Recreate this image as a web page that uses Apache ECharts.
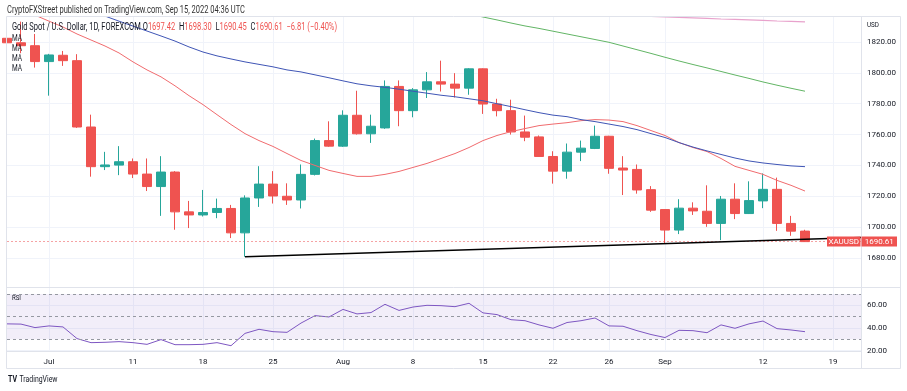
<!DOCTYPE html>
<html>
<head>
<meta charset="utf-8">
<script src="https://cdn.jsdelivr.net/npm/echarts@6/dist/echarts.min.js"></script>
<style>
html,body{margin:0;padding:0;background:#fff;}
#chart{width:907px;height:391px;}
</style>
</head>
<body>
<div id="chart"></div>
<script>
// ---------- DATA ----------
const categories = [
  '2022-06-28','2022-06-29','2022-06-30',
  '2022-07-01','2022-07-04','2022-07-05','2022-07-06','2022-07-07','2022-07-08',
  '2022-07-11','2022-07-12','2022-07-13','2022-07-14','2022-07-15',
  '2022-07-18','2022-07-19','2022-07-20','2022-07-21','2022-07-22',
  '2022-07-25','2022-07-26','2022-07-27','2022-07-28','2022-07-29',
  '2022-08-01','2022-08-02','2022-08-03','2022-08-04','2022-08-05',
  '2022-08-08','2022-08-09','2022-08-10','2022-08-11','2022-08-12',
  '2022-08-15','2022-08-16','2022-08-17','2022-08-18','2022-08-19',
  '2022-08-22','2022-08-23','2022-08-24','2022-08-25','2022-08-26',
  '2022-08-29','2022-08-30','2022-08-31','2022-09-01','2022-09-02',
  '2022-09-05','2022-09-06','2022-09-07','2022-09-08','2022-09-09',
  '2022-09-12','2022-09-13','2022-09-14','2022-09-15','2022-09-16',
  '2022-09-19','2022-09-20','2022-09-21'
];

const openP  = [1822.4,1819.5,1817.6,1807.3,1811.4,1807.9,1764.9,1739.2,1740.2,1742.4,1734.4,1726.3,1735.7,1709.9,1707.9,1709.5,1712.1,1696.3,1718.9,1727.9,1720.0,1717.6,1734.2,1756.1,1752.5,1772.5,1760.5,1764.3,1791.2,1775.5,1789.0,1794.2,1792.7,1790.1,1802.6,1779.8,1775.5,1761.7,1758.5,1745.8,1736.3,1748.6,1751.0,1758.9,1738.3,1737.4,1724.3,1711.4,1698.1,1712.3,1710.3,1702.4,1718.1,1708.8,1717.0,1724.5,1702.4,1697.42];
const highP  = [1829.2,1833.2,1825.2,1812.3,1814.2,1812.1,1772.9,1748.8,1752.5,1744.5,1744.5,1746.0,1736.3,1717.0,1724.1,1718.5,1714.4,1720.6,1739.5,1736.3,1728.4,1740.6,1757.4,1768.6,1775.7,1788.4,1772.9,1795.1,1795.1,1790.1,1800.5,1807.9,1799.8,1803.0,1802.9,1783.2,1782.6,1772.3,1759.4,1749.2,1754.2,1756.1,1765.8,1759.2,1746.0,1740.6,1726.6,1711.6,1718.1,1716.1,1727.1,1720.2,1728.4,1729.7,1734.8,1732.1,1707.3,1698.30];
const lowP   = [1819.0,1812.7,1803.4,1785.2,1804.5,1764.3,1732.7,1737.0,1733.7,1731.8,1723.4,1707.3,1698.3,1699.4,1706.9,1705.8,1692.9,1680.8,1713.1,1715.3,1714.4,1712.1,1733.5,1752.1,1752.0,1760.0,1754.6,1763.7,1765.4,1771.2,1783.7,1787.9,1784.0,1785.8,1773.4,1771.8,1760.0,1755.7,1745.5,1728.2,1731.4,1742.8,1750.6,1734.6,1720.8,1721.7,1709.9,1689.5,1695.5,1707.9,1700.2,1691.6,1705.2,1708.5,1712.3,1697.6,1694.4,1690.45];
const closeP = [1819.5,1817.6,1807.3,1811.6,1807.9,1764.9,1739.2,1740.3,1742.4,1734.4,1726.3,1735.7,1709.9,1707.9,1709.5,1712.1,1696.3,1718.9,1727.9,1720.2,1717.6,1734.2,1756.1,1752.5,1772.5,1760.5,1765.4,1791.2,1775.5,1789.0,1794.2,1792.7,1790.1,1802.6,1779.8,1775.5,1761.7,1758.3,1745.8,1736.3,1748.6,1751.2,1758.9,1738.1,1737.0,1724.1,1711.0,1698.1,1712.3,1710.5,1702.4,1718.1,1708.8,1717.2,1724.5,1702.4,1697.4,1690.61];

// moving averages (null = not drawn)
const maRed = [1843.9,1840.5,1837.4,1833.5,1829.7,1825.2,1821.3,1817.4,1812.9,1807.1,1801.9,1797.4,1791.6,1785.2,1779.4,1772.9,1766.5,1760.6,1756.1,1752.3,1747.7,1743.2,1740.0,1736.8,1734.8,1732.9,1732.9,1734.2,1736.1,1738.7,1741.3,1744.5,1747.7,1751.6,1756.1,1759.4,1761.9,1763.9,1765.8,1766.8,1767.7,1769.0,1769.7,1769.4,1768.4,1765.8,1762.6,1759.4,1754.8,1751.6,1749.0,1744.5,1739.4,1736.8,1734.2,1730.3,1727.1,1723.4];
const maBlue = [null,null,null,null,null,null,1840.2,1836.8,1833.5,1830.3,1827.1,1823.9,1820.6,1816.8,1813.5,1811.0,1809.0,1807.1,1805.5,1803.9,1801.9,1800.6,1798.7,1796.8,1794.8,1792.9,1791.6,1790.6,1789.4,1788.1,1786.8,1785.5,1784.5,1783.2,1781.9,1780.0,1778.1,1776.1,1774.2,1772.6,1771.6,1769.7,1768.4,1766.8,1765.2,1763.2,1760.6,1758.1,1754.8,1751.9,1749.4,1747.1,1744.8,1742.9,1741.6,1740.6,1739.7,1739.2];
const maGreen = [null,null,null,null,null,null,null,null,null,null,null,null,null,null,null,null,null,null,null,null,null,null,null,null,null,null,null,null,null,null,null,null,null,1838.2,1836.2,1834.3,1832.3,1830.4,1828.8,1827.0,1825.2,1823.4,1821.6,1819.8,1817.4,1815.0,1812.6,1810.1,1807.7,1805.4,1803.2,1800.9,1798.6,1796.4,1794.1,1792.0,1790.0,1788.1];
const maPink = [null,null,null,null,null,null,null,null,null,null,null,null,null,null,null,null,null,null,null,null,null,null,null,null,null,null,null,null,null,null,null,null,null,null,null,null,null,null,null,null,null,null,null,null,null,null,1836.6,1836.2,1835.9,1835.6,1835.3,1834.9,1834.6,1834.3,1834.0,1833.6,1833.3,1833.0];

const rsiValues = [43.6,43.4,40.3,41.8,40.9,30.6,27.0,27.3,27.9,27.0,25.5,29.7,25.2,25.2,25.5,27.0,24.3,35.2,38.8,36.7,36.1,44.3,50.9,49.7,56.4,52.4,53.6,60.9,55.5,58.5,60.0,59.7,58.8,61.8,53.3,51.8,47.3,46.4,42.7,39.7,44.8,46.4,48.8,41.8,41.5,37.6,34.2,31.5,37.9,37.6,35.8,42.7,39.7,43.6,46.1,39.4,38.2,36.7];

// trend line: from the 21 Jul low to the right edge
const trendDates  = ['2022-07-21','2022-09-21'];
const trendValues = [1680.8, 1693.3];

const tickDates = ['2022-07-01','2022-07-11','2022-07-18','2022-07-25','2022-08-01','2022-08-08','2022-08-15','2022-08-22','2022-08-26','2022-09-01','2022-09-12','2022-09-19'];
const tickTexts = ['Jul','11','18','25','Aug','8','15','22','26','Sep','12','19'];
const priceTicks = [1680,1700,1720,1740,1760,1780,1800,1820];
const rsiTicks = [20,40,60];
const rsiLevels = [30,50,70];

const symbol = 'XAUUSD';
const headerLine = 'CryptoFXStreet published on TradingView.com, Sep 15, 2022 04:36 UTC';
const titleText = 'Gold Spot / U.S. Dollar, 1D, FOREXCOM';
const change = '\u22126.81 (\u22120.40%)';

// ---------- BUILD ----------
const FONT = 'Roboto';
const UP = '#26a69a', DOWN = '#ef5350', TXT = '#131722', GRIDC = '#f0f3fa', FRAME = '#e0e3eb';
const candleData = openP.map((o, i) => [o, closeP[i], lowP[i], highP[i]]);
const tickIdx = new Set(tickDates.map(d => categories.indexOf(d)));
const isTick = (i) => tickIdx.has(i);
const fmtDate = (v) => { const k = tickDates.indexOf(v); return k >= 0 ? tickTexts[k] : ''; };
const trendData = categories.map(d => { const k = trendDates.indexOf(d); return k >= 0 ? trendValues[k] : null; });
const lastClose = closeP[closeP.length - 1];

const chart = echarts.init(document.getElementById('chart'), null, {renderer: 'canvas'});

const option = {
  animation: false,
  backgroundColor: '#ffffff',
  textStyle: {fontFamily: FONT},
  grid: [
    {left: 7, right: 46, top: 17, height: 270},
    {left: 7, right: 46, top: 287, height: 64.7}
  ],
  xAxis: [
    {type: 'category', gridIndex: 0, data: categories, boundaryGap: false,
     axisLine: {show: false}, axisTick: {show: false}, axisLabel: {show: false},
     splitLine: {show: true, interval: isTick, lineStyle: {color: GRIDC, width: 1}}},
    {type: 'category', gridIndex: 1, data: categories, boundaryGap: false,
     axisLine: {show: true, lineStyle: {color: FRAME}}, axisTick: {show: false},
     axisLabel: {show: true, interval: isTick, formatter: fmtDate, fontSize: 8, color: TXT, margin: 6, fontFamily: FONT},
     splitLine: {show: true, interval: isTick, lineStyle: {color: GRIDC, width: 1}}}
  ],
  yAxis: [
    {type: 'value', gridIndex: 0, position: 'right', min: 1661.2, max: 1836.2, scale: true,
     axisLine: {show: false}, axisTick: {show: false, customValues: priceTicks},
     axisLabel: {customValues: priceTicks, formatter: v => Number(v).toFixed(2), fontSize: 8, color: TXT, margin: 6, fontFamily: FONT},
     splitLine: {show: true, lineStyle: {color: GRIDC}}},
    {type: 'value', gridIndex: 1, position: 'right', min: 19, max: 76.2,
     axisLine: {show: false}, axisTick: {show: false, customValues: rsiTicks},
     axisLabel: {customValues: rsiTicks, formatter: v => Number(v).toFixed(2), fontSize: 8, color: TXT, margin: 6, fontFamily: FONT},
     splitLine: {show: true, lineStyle: {color: GRIDC}}}
  ],
  series: [
    {type: 'candlestick', name: symbol, xAxisIndex: 0, yAxisIndex: 0, data: candleData, barWidth: 10,
     itemStyle: {color: UP, color0: DOWN, borderColor: UP, borderColor0: DOWN, borderWidth: 1}},
    {type: 'line', name: 'MA red', data: maRed, symbol: 'none', lineStyle: {color: '#f06b6e', width: 1}, z: 3, silent: true},
    {type: 'line', name: 'MA blue', data: maBlue, symbol: 'none', lineStyle: {color: '#3f55b5', width: 1}, z: 3, silent: true},
    {type: 'line', name: 'MA green', data: maGreen, symbol: 'none', lineStyle: {color: '#62b565', width: 1}, z: 3, silent: true},
    {type: 'line', name: 'MA pink', data: maPink, symbol: 'none', lineStyle: {color: '#e8a2cc', width: 1.2}, z: 3, silent: true},
    {type: 'line', name: 'trend', data: trendData, connectNulls: true, symbol: 'none', lineStyle: {color: '#000000', width: 1.5}, z: 4, silent: true,
     markLine: {silent: true, symbol: 'none', label: {show: false}, z: 2,
       itemStyle: {color: '#f5a3a4'},
       lineStyle: {color: '#f5a3a4', type: [2, 2], width: 1},
       data: [{yAxis: lastClose}]}},
    {type: 'line', name: 'RSI', xAxisIndex: 1, yAxisIndex: 1, data: rsiValues, symbol: 'none', lineStyle: {color: '#7e57c2', width: 1}, z: 3, silent: true,
     markArea: {silent: true, itemStyle: {color: 'rgba(126,87,194,0.10)'}, data: [[{yAxis: rsiLevels[0]}, {yAxis: rsiLevels[2]}]]},
     markLine: {silent: true, symbol: 'none', label: {show: false},
       lineStyle: {color: '#9598a1', type: [3, 3], width: 1},
       data: rsiLevels.map(v => ({yAxis: v}))}}
  ]
};
chart.setOption(option);

// ---------- TEXT / FRAME ----------
const mctx = document.createElement('canvas').getContext('2d');
function tw(str, size, weight) { mctx.font = (weight || 'normal') + ' ' + size + 'px ' + FONT; return mctx.measureText(str).width; }
function segs(list, x0, y, size, targetW, weight) {
  const total = list.reduce((s, p) => s + tw(p[0], size, weight), 0);
  const k = targetW ? targetW / total : 1;
  let x = x0; const out = [];
  list.forEach(p => {
    out.push({type: 'text', x: x, y: y, scaleX: k, z: 100, silent: true,
      style: {text: p[0], fill: p[1], fontSize: size, fontFamily: FONT, fontWeight: weight || 'normal',
              textVerticalAlign: 'middle', verticalAlign: 'middle'}});
    x += tw(p[0], size, weight) * k;
  });
  return out;
}
function hline(x1, x2, y, c) { return {type: 'line', z: 50, silent: true, shape: {x1: x1, y1: y, x2: x2, y2: y}, style: {stroke: c || FRAME, lineWidth: 1}}; }
function vline(x, y1, y2, c) { return {type: 'line', z: 50, silent: true, shape: {x1: x, y1: y1, x2: x, y2: y2}, style: {stroke: c || FRAME, lineWidth: 1}}; }

const yLast = chart.convertToPixel({yAxisIndex: 0}, lastClose);
const g = [];
g.push(hline(6.5, 900.5, 16.5), hline(6.5, 900.5, 287.5), hline(6.5, 900.5, 368.5),
       vline(6.5, 16.5, 368.5), vline(861.5, 16.5, 368.5), vline(900.5, 16.5, 368.5));
g.push(...segs([[headerLine, '#333333']], 7, 10, 10, 238));
g.push(...segs([
  [titleText + ' ', TXT], ['O', TXT], [openP[openP.length - 1].toFixed(2) + '  ', DOWN],
  ['H', TXT], [highP[highP.length - 1].toFixed(2) + '  ', DOWN],
  ['L', TXT], [lowP[lowP.length - 1].toFixed(2) + '  ', DOWN],
  ['C', TXT], [lastClose.toFixed(2) + '  ', DOWN], [change, DOWN]
], 12, 27, 10, 325));
[38.3, 48.3, 58.3, 68.3].forEach(y => g.push(...segs([['MA', TXT]], 12, y, 9, 10)));
g.push(...segs([['RSI', TXT]], 12, 298, 8, 9));
g.push(...segs([['USD', TXT]], 867, 25, 8, 12));
g.push(...segs([['TV', '#131722']], 8, 380, 9, 9, 'bold'));
g.push(...segs([['TradingView', '#131722']], 19.5, 380, 9, 38));
// last price tags
g.push({type: 'rect', z: 90, silent: true, shape: {x: 827, y: yLast - 5, width: 33.5, height: 10}, style: {fill: DOWN}});
g.push({type: 'rect', z: 90, silent: true, shape: {x: 861.5, y: yLast - 5, width: 35.5, height: 10}, style: {fill: DOWN}});
g.push({type: 'text', z: 95, silent: true, x: 843.7, y: yLast, style: {text: symbol, fill: '#ffffff', fontSize: 8, fontFamily: FONT, textAlign: 'center', align: 'center', textVerticalAlign: 'middle', verticalAlign: 'middle'}});
g.push({type: 'text', z: 95, silent: true, x: 879.2, y: yLast, style: {text: lastClose.toFixed(2), fill: '#ffffff', fontSize: 8, fontFamily: FONT, textAlign: 'center', align: 'center', textVerticalAlign: 'middle', verticalAlign: 'middle'}});
chart.setOption({graphic: g});
</script>
</body>
</html>
